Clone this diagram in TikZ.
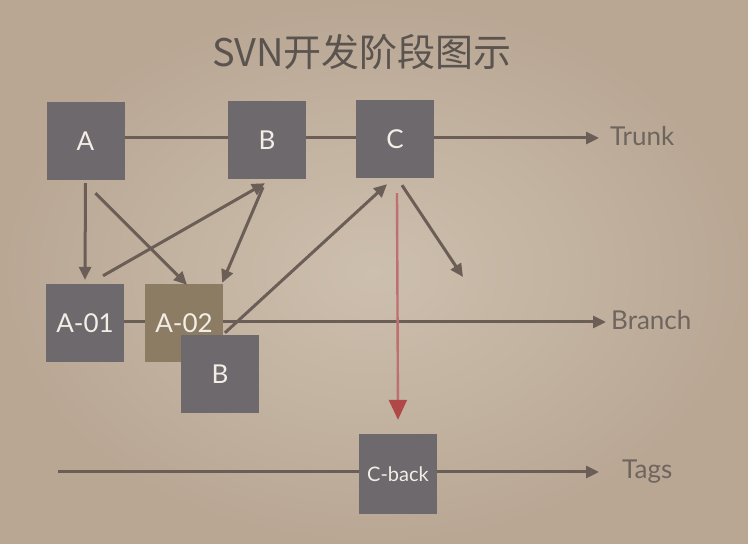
\documentclass[tikz,border=0pt]{standalone}
\usepackage{fontspec}
\setmainfont{Lato}
\newfontfamily\cjkfont{Noto Sans CJK SC}
\usetikzlibrary{arrows.meta}
\definecolor{bgc}{HTML}{CDBFAE}
\definecolor{bge}{HTML}{B9A794}
\definecolor{boxg}{HTML}{6D696C}
\definecolor{boxb}{HTML}{8C7C63}
\definecolor{linec}{HTML}{6A5E56}
\definecolor{redc}{HTML}{B04848}
\definecolor{redl}{HTML}{BE7070}
\definecolor{labc}{HTML}{6E655E}
\definecolor{titc}{HTML}{5A534E}
\definecolor{boxt}{HTML}{F2EEE6}
\tikzset{
  sq/.style={rectangle, fill=boxg, minimum width=78pt, minimum height=78pt, inner sep=0pt, text=boxt, font=\fontsize{26}{28}\selectfont},
  ln/.style={draw=linec, line width=3pt},
  arr/.style={ln, -{Triangle[length=13pt,width=12pt]}},
  lab/.style={anchor=west, text=labc, font=\fontsize{26}{28}\selectfont, inner sep=0pt}
}
\begin{document}
\begin{tikzpicture}[x=1pt,y=1pt]
\useasboundingbox (0,0) rectangle (748,544);
\shade[inner color=bgc, outer color=bge] (0,0) rectangle (748,544);
\node[text=titc, font=\cjkfont\fontsize{38}{42}\selectfont] (title) at (362,492) {SVN开发阶段图示};
% trunk
\node[sq] (A) at (85.5,403) {A};
\node[sq] (B) at (267,404) {B};
\node[sq] (C) at (395,405) {C};
% branch
\node[sq] (A01) at (85,221) {A-01};
\node[sq, fill=boxb] (A02) at (184,221) {A-02};
\node[sq] (B2) at (220,170) {B};
% tags
\node[sq, minimum height=80pt, font=\fontsize{20}{22}\selectfont] (Cb) at (398,70) {C-back};
% free ends
\coordinate (trunkend) at (599,406);
\coordinate (branchend) at (606,222);
\coordinate (tagstart) at (58,72);
\coordinate (tagend) at (599,72);
\coordinate (cfree) at (463,267);
% labels
\node[lab] (ltrunk) at (610,408) {Trunk};
\node[lab] (lbranch) at (611,224) {Branch};
\node[lab] (ltags) at (622,72) {Tags};
% trunk line
\draw[ln] (A.east |- trunkend) -- (B.west |- trunkend);
\draw[ln] (B.east |- trunkend) -- (C.west |- trunkend);
\draw[arr] (C.east |- trunkend) -- (trunkend);
% branch line
\draw[ln] (A01.east |- branchend) -- (A02.west |- branchend);
\draw[arr] (A02.east |- branchend) -- (branchend);
% tags line
\draw[ln] (tagstart) -- (Cb.west |- tagstart);
\draw[arr] (Cb.east |- tagstart) -- (tagend);
% arrows
\draw[arr] ([yshift=-3pt]A.south) -- ([yshift=4pt]A01.north);
\draw[arr] ([xshift=10pt,yshift=-13pt]A.south) -- ([xshift=3pt,yshift=-1pt]A02.north);
\draw[arr] ([xshift=18pt,yshift=8pt]A01.north) -- ([xshift=-2pt,yshift=-4pt]B.south);
\draw[arr] ([xshift=-4pt,yshift=-8pt]B.south) -- ([xshift=-1pt,yshift=1pt]A02.north east);
\draw[arr] ([xshift=5pt,yshift=2pt]B2.north) -- ([xshift=-8pt,yshift=-6pt]C.south);
\draw[arr] ([xshift=7pt,yshift=-7pt]C.south) -- (cfree);
% red arrow
\draw[draw=redl, line width=2.4pt, -{Triangle[length=20pt,width=18pt,fill=redc,color=redc]}] ([xshift=2pt,yshift=-15pt]C.south) -- ([yshift=14pt]Cb.north);
\end{tikzpicture}
\end{document}
